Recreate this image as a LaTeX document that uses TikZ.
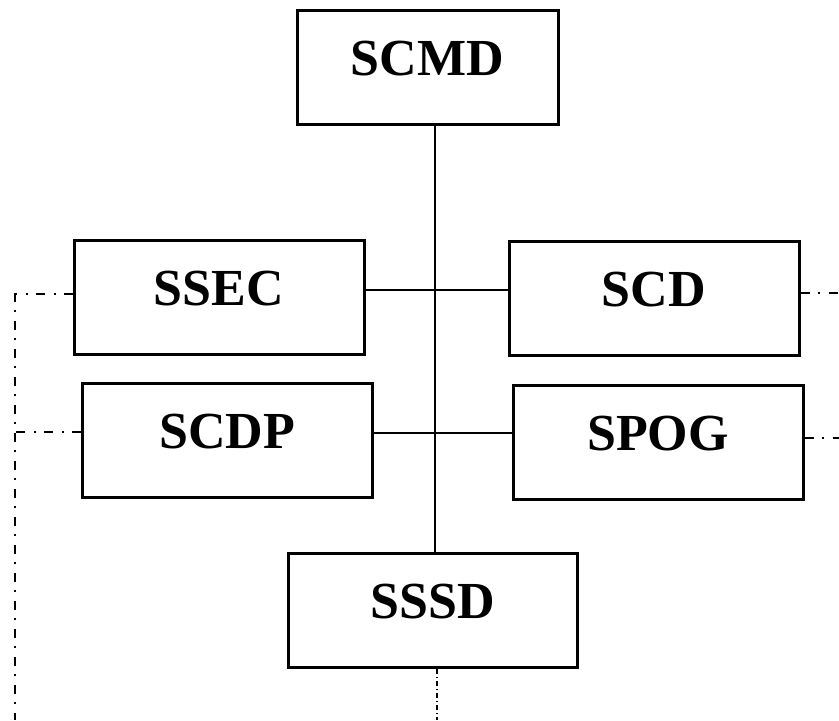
\documentclass[tikz,border=0pt]{standalone}
\usepackage{fontspec}
\setmainfont{Liberation Serif}
\usetikzlibrary{positioning}

\begin{document}
\begin{tikzpicture}[x=1pt, y=1pt,
    unit/.style={draw, line width=1.5pt, minimum width=145pt, minimum height=57pt,
      inner sep=0pt, text height=16pt, text depth=8pt,
      font=\fontsize{26}{30}\selectfont\bfseries},
    link/.style={line width=1.2pt},
    dotlink/.style={line width=1.2pt, dash pattern=on 4.5pt off 4pt on 1pt off 4.5pt},
    thinlink/.style={line width=0.7pt, dash pattern=on 2.5pt off 1.5pt on 0.6pt off 1.5pt}]
  \useasboundingbox (0,0) rectangle (419.5,360);
  \node[unit, minimum width=130.5pt]  (SCMD)  at (213.75,326.25) {SCMD};
  \node[unit]  (SSEC)  at (109.5,211.5) {SSEC};
  \node[unit]  (SCD)   at (327,210.75) {SCD};
  \node[unit, below=13pt of SSEC, xshift=4pt]   (SCDP)  {SCDP};
  \node[unit, below=13.5pt of SCD, xshift=2pt]  (SPOG)  {SPOG};
  \node[unit, minimum width=144.5pt]  (SSSD)  at (216.25,55) {SSSD};

  % trunk and the two cross rows
  \coordinate (top)  at (217.5,297.5);
  \coordinate (row1) at (217.5,215);
  \coordinate (row2) at (217.5,143.5);
  \draw[link] (SCMD.south -| top) -- (SSSD.north -| top);
  \draw[link] (SSEC.east |- row1) -- (SCD.west |- row1);
  \draw[link] (SCDP.east |- row2) -- (SPOG.west |- row2);

  % outgoing dash-dot lines
  \coordinate (lt) at (7.5,213);
  \coordinate (lb) at (7.5,0);
  \coordinate (lm) at (5.5,144);
  \coordinate (rt) at (419.5,213.5);
  \coordinate (rm) at (419.5,141);
  \coordinate (bt) at (218.5,0);
  \draw[dotlink] (SSEC.west |- lt) -- (lt) -- (lb);
  \draw[dotlink] (SCDP.west |- lm) -- (lm);
  \draw[dotlink] (SCD.east |- rt) -- (rt);
  \draw[dotlink] (SPOG.east |- rm) -- (rm);
  \draw[thinlink] (SSSD.south -| bt) -- (bt);
\end{tikzpicture}
\end{document}
